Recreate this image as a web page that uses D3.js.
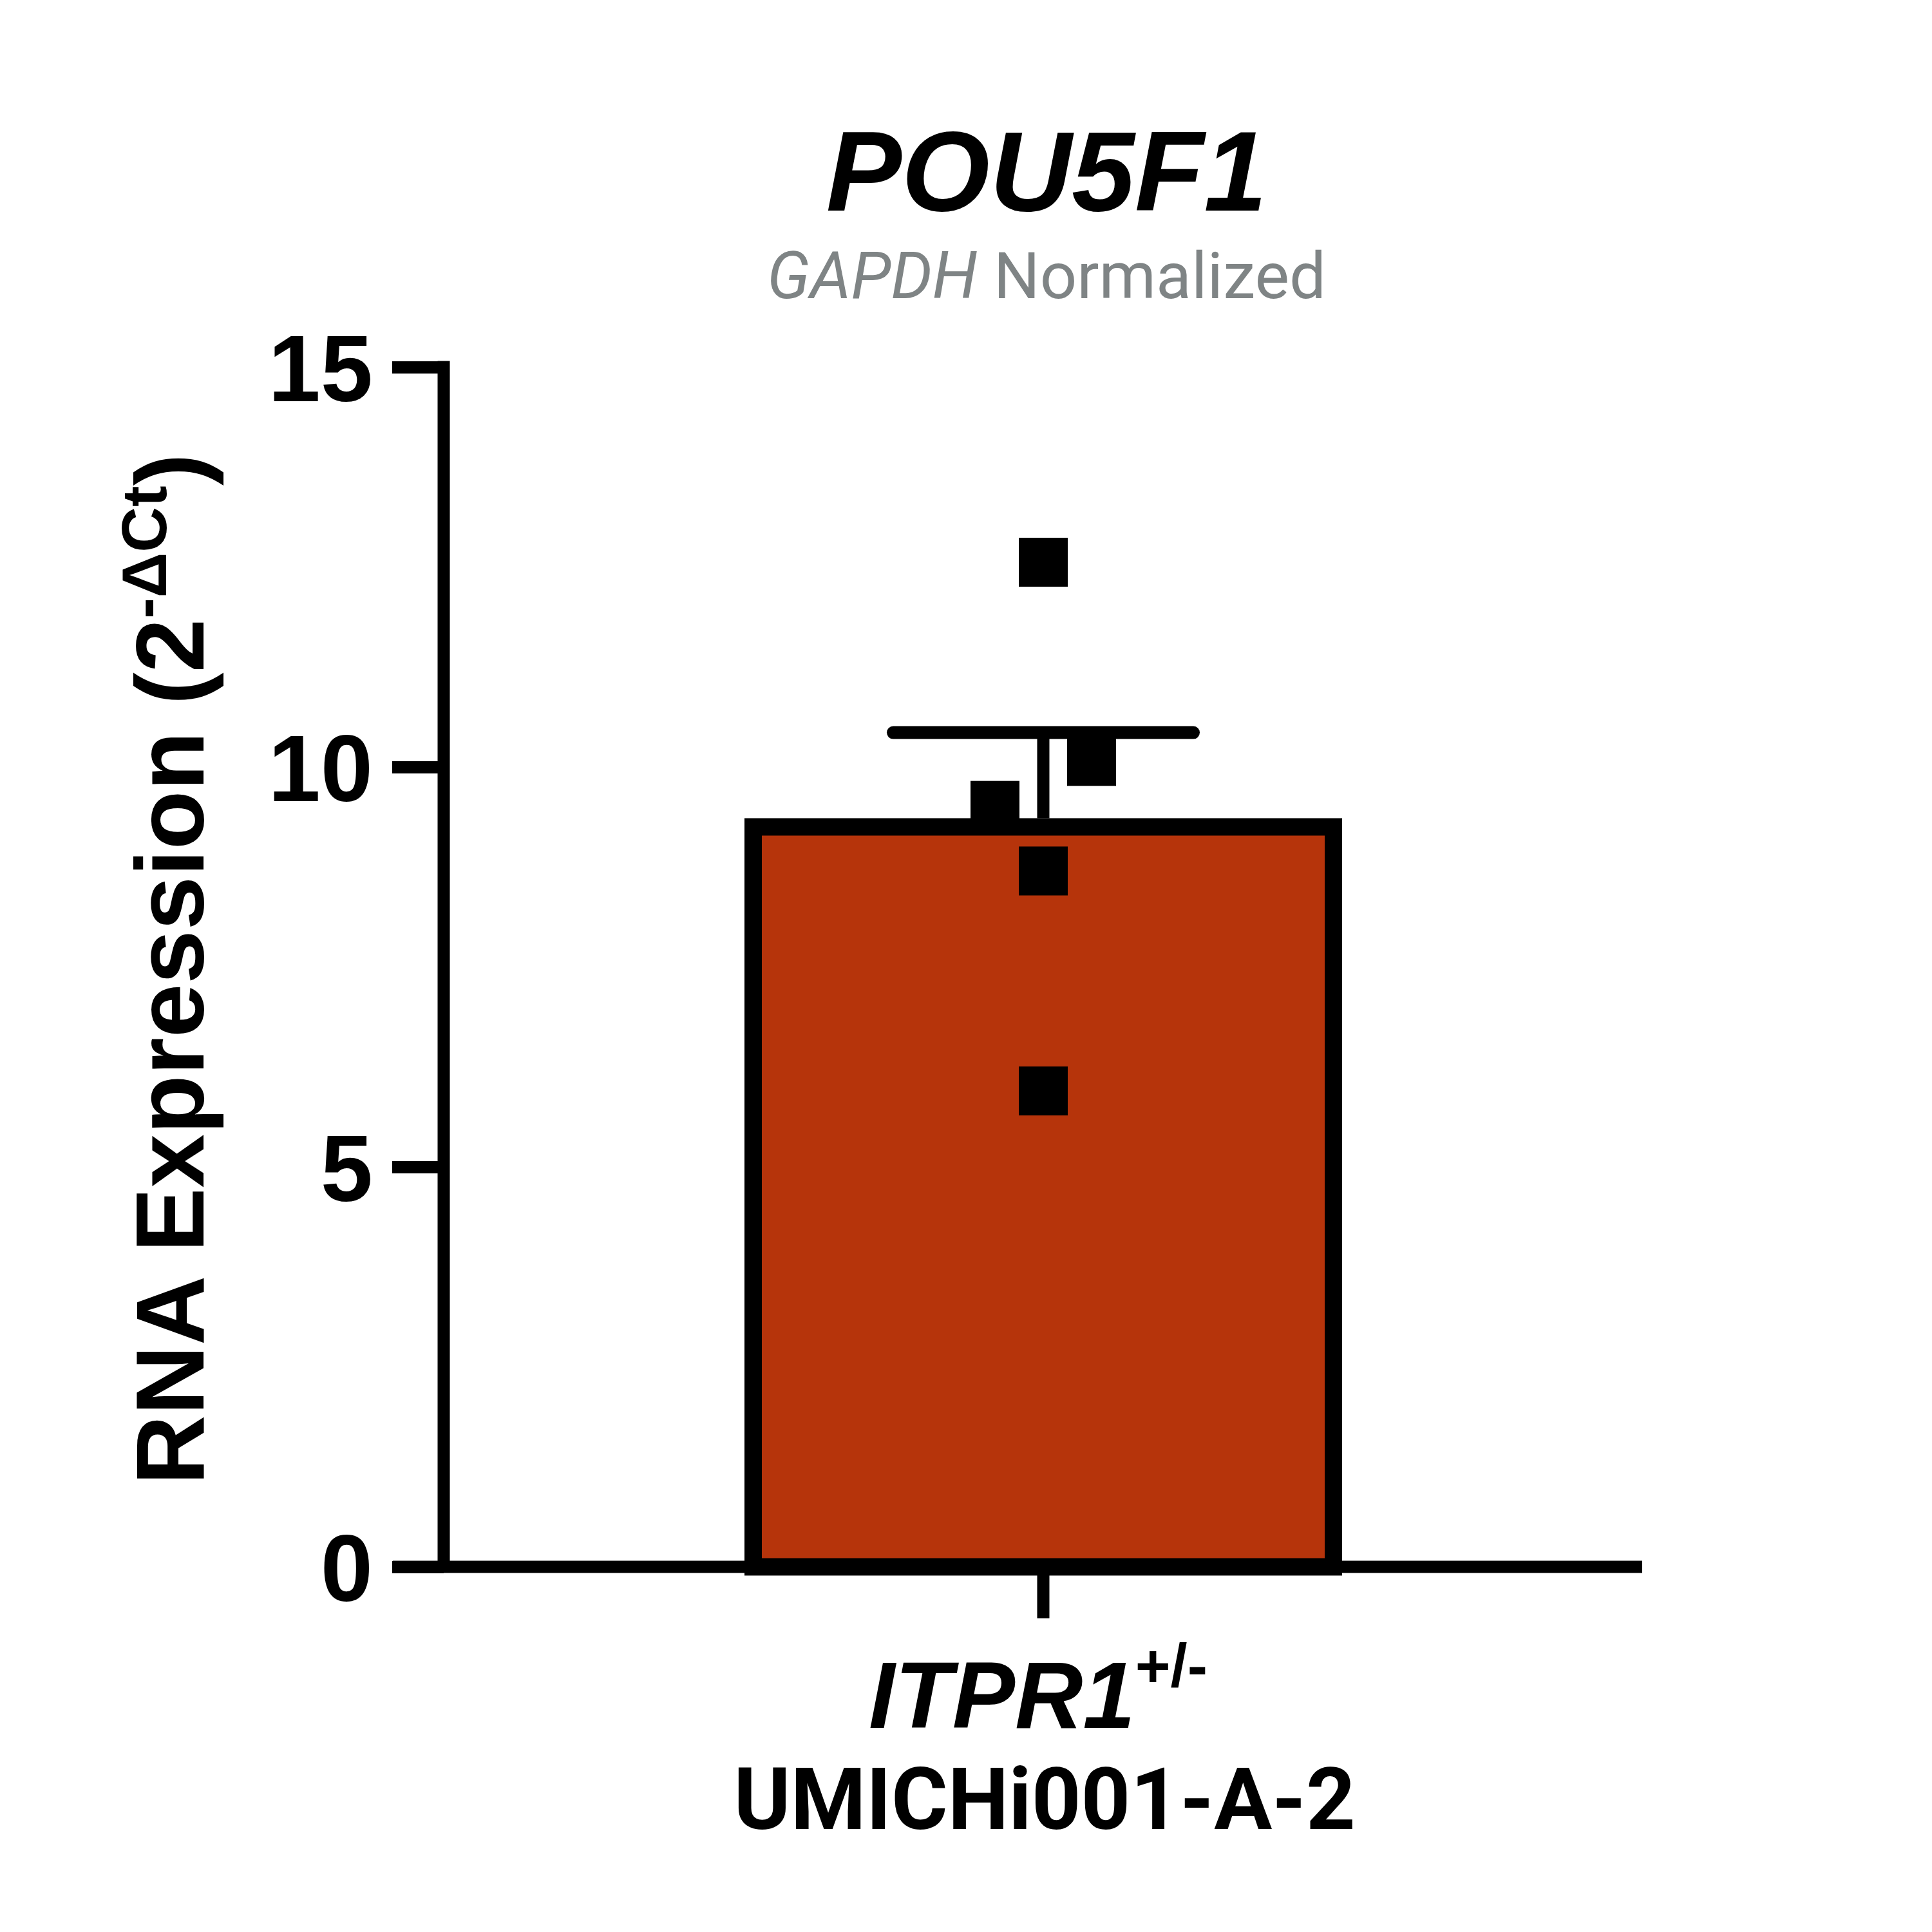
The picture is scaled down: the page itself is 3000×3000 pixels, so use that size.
<!DOCTYPE html>
<html><head><meta charset="utf-8">
<script src="https://cdn.jsdelivr.net/npm/d3@7"></script>
<style>html,body{margin:0;padding:0;background:#fff}</style>
</head><body>
<script>
const categories = ["ITPR1"];
const barMeans = [9.36];
const barSEM = [1.07];
const points = [12.56, 10.07, 9.52, 8.70, 5.95];
const pointOffsets = [0, 1, -1, 0, 0]; // jitter slots
const yTicks = [0, 5, 10, 15];

const W = 3000, H = 3000;
const svg = d3.select("body").append("svg").attr("width", W).attr("height", H)
  .style("background", "#fff");

const y = d3.scaleLinear().domain([0, 15]).range([2433, 570]);
const cx = 1620;
const barHalf = 464; // outer half-width
const sw = 27;

// Bar
svg.append("g").selectAll("rect").data(barMeans).join("rect")
  .attr("x", cx - barHalf + sw/2)
  .attr("width", 2*barHalf - sw)
  .attr("y", d => y(d) + sw/2)
  .attr("height", d => y(0) - y(d) - sw/2)
  .attr("fill", "#b6340b").attr("stroke", "#000").attr("stroke-width", sw);

// Error bar
const eb = svg.append("g");
barMeans.forEach((m, i) => {
  eb.append("line").attr("x1", cx).attr("x2", cx).attr("y1", y(m)).attr("y2", y(m + barSEM[i]))
    .attr("stroke", "#000").attr("stroke-width", 19);
  eb.append("line").attr("x1", cx - 233).attr("x2", cx + 233)
    .attr("y1", y(m + barSEM[i])).attr("y2", y(m + barSEM[i]))
    .attr("stroke", "#000").attr("stroke-width", 20).attr("stroke-linecap", "round");
});

// Points
const ps = 76;
svg.append("g").selectAll("rect").data(points).join("rect")
  .attr("x", (d, i) => cx + pointOffsets[i]*75 - ps/2)
  .attr("y", d => y(d) - ps/2)
  .attr("width", ps).attr("height", ps).attr("fill", "#000");

// Y axis
const yAxis = d3.axisLeft(y).tickValues(yTicks).tickSize(80).tickPadding(30).tickFormat(d3.format("d"));
const gy = svg.append("g").attr("transform", "translate(689,0)").call(yAxis);
gy.select(".domain").remove();
gy.selectAll(".tick line").attr("stroke", "#000").attr("stroke-width", 19);
gy.selectAll(".tick text").attr("font-family", "'Liberation Sans', Arial, sans-serif")
  .attr("font-weight", "bold").attr("font-size", 146).attr("fill", "#000").attr("dy", "0.36em");
svg.append("line").attr("x1", 689).attr("x2", 689).attr("y1", y(15) - 9.5).attr("y2", y(0))
  .attr("stroke", "#000").attr("stroke-width", 19);

// X axis
svg.append("line").attr("x1", 610).attr("x2", 2550).attr("y1", y(0)).attr("y2", y(0))
  .attr("stroke", "#000").attr("stroke-width", 19);
svg.append("line").attr("x1", cx).attr("x2", cx).attr("y1", y(0)).attr("y2", y(0) + 80)
  .attr("stroke", "#000").attr("stroke-width", 19);

// X labels
const xl = svg.append("text").attr("x", cx - 8).attr("y", 2683).attr("text-anchor", "middle")
  .attr("font-family", "'Liberation Sans', Arial, sans-serif").attr("font-weight", "bold")
  .attr("font-style", "italic").attr("font-size", 146).attr("fill", "#000");
xl.append("tspan").text(categories[0]);
xl.append("tspan").attr("font-size", 94).attr("dy", -64).attr("font-style", "normal").text("+/-");

svg.append("text").attr("x", cx + 2).attr("y", 2840).attr("text-anchor", "middle")
  .attr("font-family", "Roboto, sans-serif").attr("font-weight", "bold")
  .attr("font-size", 134).attr("fill", "#000").text("UMICHi001-A-2");

// Title
svg.append("text").attr("x", cx + 5).attr("y", 327).attr("text-anchor", "middle")
  .attr("font-family", "'Liberation Sans', Arial, sans-serif").attr("font-weight", "bold")
  .attr("font-style", "italic").attr("font-size", 176).attr("fill", "#000").text("POU5F1");

const st = svg.append("text").attr("x", cx + 5).attr("y", 463).attr("text-anchor", "middle")
  .attr("font-family", "Roboto, sans-serif").attr("font-size", 101).attr("fill", "#7f8485");
st.append("tspan").attr("font-style", "italic").text("GAPDH");
st.append("tspan").text(" Normalized");

// Y label
const yl = svg.append("text").attr("transform", "translate(316,1505) rotate(-90)")
  .attr("text-anchor", "middle")
  .attr("font-family", "'Liberation Sans', Arial, sans-serif").attr("font-weight", "bold")
  .attr("font-size", 150).attr("fill", "#000");
yl.append("tspan").text("RNA Expression (2");
yl.append("tspan").attr("font-size", 98).attr("dy", -58).text("-\u0394Ct");
yl.append("tspan").attr("dy", 58).text(")");
</script>
</body></html>
